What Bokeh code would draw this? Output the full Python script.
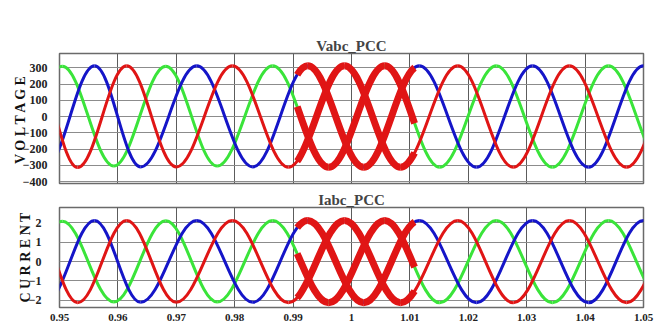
import numpy as np
from bokeh.plotting import figure
from bokeh.layouts import column
from bokeh.models import FixedTicker, Range1d
from bokeh.embed import file_html
from bokeh.resources import INLINE

# ---------------- data ----------------
# times (s) of successive extrema (alternating trough/peak) of each phase
T_GREEN = [0.9413, 0.9505, 0.9593, 0.9682, 0.9770, 0.9865, 0.9961, 1.0057,
           1.0151, 1.0248, 1.0344, 1.0440, 1.0536]
T_BLUE = [0.9476, 0.9560, 0.9639, 0.9735, 0.9831, 0.9925, 1.0021, 1.0116,
          1.0214, 1.0310, 1.0406, 1.0500, 1.0596]
T_RED = [0.9456, 0.9531, 0.9615, 0.9700, 0.9796, 0.9892, 0.9988, 1.0084,
         1.0182, 1.0277, 1.0373, 1.0471, 1.0567]

# voltage values at those extrema (V)
V_GREEN = [-310, 310, -304, 310, -305, 312, -312, 312, -312, 312, -312, 312, -312]
V_BLUE = [-312, 312, -310, 312, -310, 312, -312, 312, -312, 312, -312, 312, -312]
V_RED = [310, -314, 312, -310, 312, -312, 312, -312, 312, -312, 312, -312, 312]

# current values at those extrema (A)
I_GREEN = [-2.10, 2.08, -2.08, 2.10, -2.08, 2.12, -2.12, 2.12, -2.12, 2.12, -2.12, 2.12, -2.12]
I_BLUE = [-2.12, 2.12, -2.10, 2.12, -2.10, 2.12, -2.12, 2.12, -2.12, 2.12, -2.12, 2.12, -2.12]
I_RED = [2.10, -2.12, 2.12, -2.10, 2.12, -2.12, 2.12, -2.12, 2.12, -2.12, 2.12, -2.12, 2.12]

# disturbance window drawn as thick red traces (s)
DIST_START = 0.9907
DIST_END = 1.0108

X_TICKS = [0.95, 0.96, 0.97, 0.98, 0.99, 1.00, 1.01, 1.02, 1.03, 1.04, 1.05]
X_LABELS = ["0.95", "0.96", "0.97", "0.98", "0.99", "1", "1.01", "1.02", "1.03", "1.04", "1.05"]
V_TICKS = [-400, -300, -200, -100, 0, 100, 200, 300]
I_TICKS = [-2, -1, 0, 1, 2]

TITLE_V = "Vabc_PCC"
TITLE_I = "Iabc_PCC"
YLABEL_V = "V O L T A G E"
YLABEL_I = "C U R R E N T"

# ---------------- styling ----------------
GREEN = "#3ae43a"
BLUE = "#1515c8"
RED = "#e01515"
FONT = "Liberation Serif"
A = 1.0 - 2.0 / np.pi  # bezier handle fraction giving a sinusoidal half-wave shape


def bezier_segments(t, v):
    t = np.asarray(t, float)
    v = np.asarray(v, float)
    x0, x1 = t[:-1], t[1:]
    y0, y1 = v[:-1], v[1:]
    dt = x1 - x0
    return dict(x0=x0, y0=y0, x1=x1, y1=y1,
                cx0=x0 + A * dt, cy0=y0, cx1=x1 - A * dt, cy1=y1)


def _split(P, s):
    lerp = lambda a, b: (a[0] + (b[0] - a[0]) * s, a[1] + (b[1] - a[1]) * s)
    p01, p12, p23 = lerp(P[0], P[1]), lerp(P[1], P[2]), lerp(P[2], P[3])
    p012, p123 = lerp(p01, p12), lerp(p12, p23)
    p0123 = lerp(p012, p123)
    return [P[0], p01, p012, p0123], [p0123, p123, p23, P[3]]


def _s_at_x(P, xt):
    lo, hi = 0.0, 1.0
    for _ in range(60):
        m = 0.5 * (lo + hi)
        u = 1 - m
        x = u**3 * P[0][0] + 3 * u * u * m * P[1][0] + 3 * u * m * m * P[2][0] + m**3 * P[3][0]
        if x < xt:
            lo = m
        else:
            hi = m
    return 0.5 * (lo + hi)


def window_segments(seg, ts, te):
    out = {k: [] for k in ["x0", "y0", "x1", "y1", "cx0", "cy0", "cx1", "cy1"]}
    for i in range(len(seg["x0"])):
        if seg["x1"][i] <= ts or seg["x0"][i] >= te:
            continue
        P = [(seg["x0"][i], seg["y0"][i]), (seg["cx0"][i], seg["cy0"][i]),
             (seg["cx1"][i], seg["cy1"][i]), (seg["x1"][i], seg["y1"][i])]
        s0 = _s_at_x(P, ts) if seg["x0"][i] < ts else 0.0
        s1 = _s_at_x(P, te) if seg["x1"][i] > te else 1.0
        Q = P
        if s1 < 1.0:
            Q = _split(Q, s1)[0]
        if s0 > 0.0:
            Q = _split(Q, s0 / s1)[1]
        for key, pt in zip([("x0", "y0"), ("cx0", "cy0"), ("cx1", "cy1"), ("x1", "y1")], Q):
            out[key[0]].append(float(pt[0]))
            out[key[1]].append(float(pt[1]))
    return out


def make_panel(title, ylabel, yrange, yticks, series, height, top, bottom,
               label_standoff, axis_standoff, show_x):
    p = figure(width=658, height=height, output_backend="svg", toolbar_location=None,
               x_range=Range1d(X_TICKS[0], X_TICKS[-1]), y_range=Range1d(*yrange),
               min_border_left=59, min_border_right=15, min_border_top=top,
               min_border_bottom=bottom, title=title)
    p.title.text_font = FONT
    p.title.text_font_style = "bold"
    p.title.text_font_size = "15px"
    p.title.align = "center"
    p.title.offset = 5
    p.title.standoff = 0

    p.outline_line_color = "#6a6a6a"
    p.outline_line_width = 1.5
    p.background_fill_color = "white"
    p.border_fill_color = "white"

    p.xaxis.ticker = FixedTicker(ticks=X_TICKS)
    p.xaxis.major_label_overrides = {t: l for t, l in zip(X_TICKS, X_LABELS)}
    p.xgrid.ticker = FixedTicker(ticks=X_TICKS)
    p.yaxis.ticker = FixedTicker(ticks=yticks)
    p.ygrid.ticker = FixedTicker(ticks=yticks)
    p.xgrid.grid_line_color = "#5c5c5c"
    p.ygrid.grid_line_color = "#8c8c8c"
    p.xgrid.grid_line_width = 1
    p.ygrid.grid_line_width = 1

    for ax in (p.xaxis, p.yaxis):
        ax.axis_line_color = None
        ax.major_tick_line_color = None
        ax.minor_tick_line_color = None
        ax.major_label_text_font = FONT
        ax.major_label_text_font_style = "bold"
        ax.major_label_text_font_size = "12px"
        ax.major_label_text_color = "#222222"
    p.xaxis.major_label_text_font_size = "11px"
    p.xaxis.major_label_standoff = 0
    p.yaxis.major_label_standoff = label_standoff
    p.yaxis.axis_label = ylabel
    p.yaxis.axis_label_text_font = FONT
    p.yaxis.axis_label_text_font_style = "bold"
    p.yaxis.axis_label_text_font_size = "14px"
    p.yaxis.axis_label_text_color = "#111111"
    p.yaxis.axis_label_standoff = axis_standoff
    if not show_x:
        p.xaxis.visible = False

    for t, v, color in series:
        p.bezier(line_color=color, line_width=3, **bezier_segments(t, v))
    for t, v, color in series:
        w = window_segments(bezier_segments(t, v), DIST_START, DIST_END)
        p.bezier(line_color=RED, line_width=7, **w)
    return p


p1 = make_panel(TITLE_V, YLABEL_V, (-412, 388), V_TICKS,
                [(T_GREEN, V_GREEN, GREEN), (T_BLUE, V_BLUE, BLUE), (T_RED, V_RED, RED)],
                height=189, top=53, bottom=6, label_standoff=6, axis_standoff=-8, show_x=False)
p2 = make_panel(TITLE_I, YLABEL_I, (-2.365, 2.785), I_TICKS,
                [(T_GREEN, I_GREEN, GREEN), (T_BLUE, I_BLUE, BLUE), (T_RED, I_RED, RED)],
                height=134, top=17, bottom=14, label_standoff=12, axis_standoff=-7, show_x=True)

layout = column(p1, p2)
open("out.html", "w").write(file_html(layout, INLINE))
